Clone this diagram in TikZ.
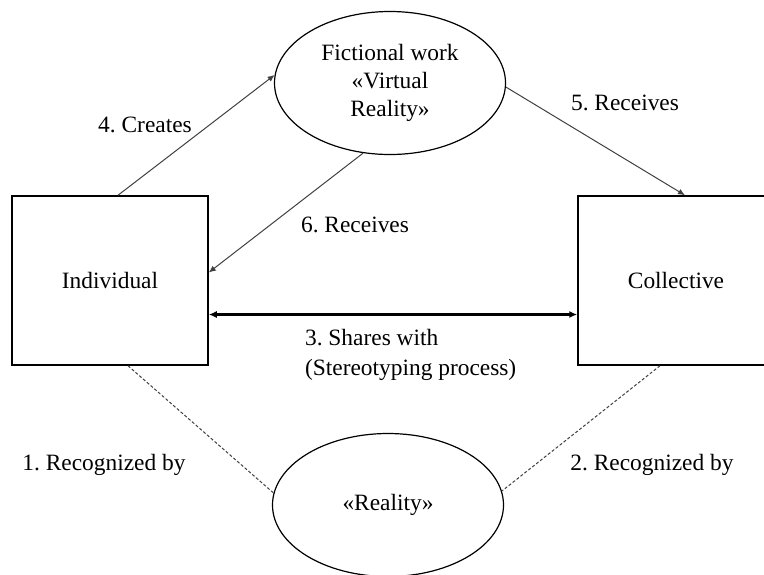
\documentclass[tikz,border=0pt]{standalone}
\usepackage{fontspec}
\setmainfont{Liberation Serif}
\usetikzlibrary{arrows.meta,shapes.geometric}
\frenchspacing

\begin{document}
\begin{tikzpicture}[x=0.5pt,y=-0.5pt,
  font=\fontsize{11.7}{14.2}\selectfont,
  box/.style={draw,line width=0.75pt,minimum width=98pt,minimum height=84.5pt,inner sep=0pt},
  oval/.style={draw,ellipse,line width=0.6pt,minimum width=115.5pt,minimum height=71.5pt,inner sep=0pt,align=center},
  link/.style={draw=black!75,line width=0.5pt,-{Latex[length=3.5pt,width=3pt]}},
  recog/.style={draw=black!75,line width=0.5pt,dash pattern=on 1.5pt off 1pt}]
  \useasboundingbox (0,0) rectangle (764,574);
  \clip (0,0) rectangle (764,574);

  % Boxes and ovals
  \node[box] (ind) at (110,280.5) {Individual};
  \node[box] (col) at (676,280.5) {Collective};
  \node[oval] (fic) at (390,83) {Fictional work\\\guillemotleft Virtual\\Reality\guillemotright};
  \node[oval] (rea) at (388,505) {\guillemotleft Reality\guillemotright};

  % Arrows
  \draw[link] ([xshift=4pt]ind.north) -- (fic.176);
  \draw[link] (fic.-2) -- ([xshift=4.5pt]col.north);
  \draw[link] (fic.249) -- ([yshift=4pt]ind.east);
  \draw[line width=1.3pt,{Latex[length=4pt,width=3.5pt]}-{Latex[length=4pt,width=3.5pt]}]
    ([yshift=-17pt]ind.east) -- ([yshift=-17pt]col.west);

  % Dotted lines
  \draw[recog] ([xshift=9pt]ind.south) -- (rea.174);
  \draw[recog] ([xshift=-8pt]col.south) -- (rea.7);

  % Labels
  \node (lcreates) at (145,125) {4. Creates};
  \node (lrecv5) at (625,103) {5. Receives};
  \node (lrecv6) at (355,225) {6. Receives};
  \node[anchor=west,align=left,font=\fontsize{11.7}{15}\selectfont] (lshares) at (298,355)
    {3. Shares with\\(Stereotyping process)};
  \node (lrecog1) at (104,465) {1. Recognized by};
  \node (lrecog2) at (652,465) {2. Recognized by};
\end{tikzpicture}
\end{document}
